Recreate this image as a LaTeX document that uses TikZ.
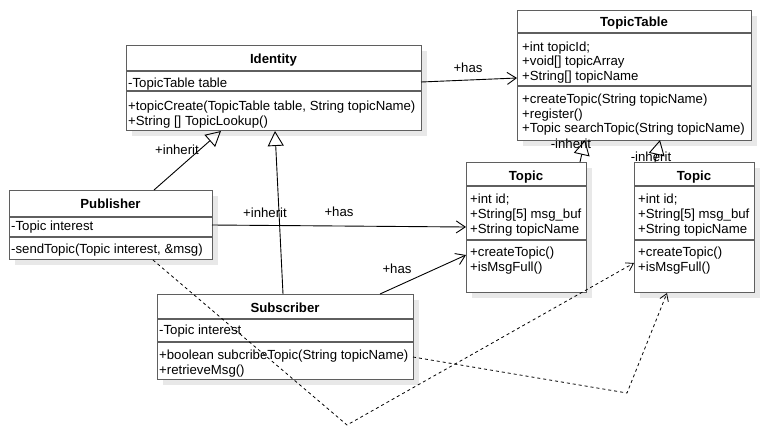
\documentclass[tikz,border=0pt]{standalone}
\usepackage{fontspec}
\setmainfont{Liberation Sans}
\usetikzlibrary{arrows.meta,shadows}
\definecolor{boxgray}{RGB}{95,95,95}
\definecolor{shadowgray}{RGB}{232,232,232}
\tikzset{
 classbox/.style={draw=boxgray, line width=1.4pt, fill=white, anchor=north west, inner sep=0pt,
   drop shadow={shadow xshift=5pt, shadow yshift=-5pt, fill=shadowgray, opacity=1}},
 sepline/.style={draw=boxgray, line width=1.2pt},
 ctitle/.style={font=\fontsize{13.2}{15}\selectfont\bfseries, anchor=base, inner sep=0pt},
 member/.style={font=\fontsize{13.2}{15}\selectfont, anchor=base west, inner sep=0pt},
 lbl/.style={font=\fontsize{13.2}{15}\selectfont, inner sep=0pt},
 assoc/.style={line width=0.9pt, -{Straight Barb[length=9pt,width=12pt,line width=0.9pt]}},
 inh/.style={line width=0.9pt, -{Triangle[open,length=15pt,width=16pt,line width=0.9pt]}},
 dep/.style={line width=0.8pt, dash pattern=on 3pt off 3pt, -{Straight Barb[length=7pt,width=9pt,line width=0.8pt]}},
}
\begin{document}
\begin{tikzpicture}[x=1pt,y=-1pt]
\useasboundingbox (0,0) rectangle (764,437);
\fill[white] (0,0) rectangle (764,437);

% ---------- Identity
\node[classbox, minimum width=295pt, minimum height=85pt] (identity) at (126,45) {};
\draw[sepline] (126,71) -- (421,71);
\draw[sepline] (126,91) -- (421,91);
\node[ctitle] (idT) at (273.5,63) {Identity};
\node[member] (idA) at (128,87) {-TopicTable table};
\node[member] (idM1) at (128,110) {+topicCreate(TopicTable table, String topicName)};
\node[member] (idM2) at (128,125) {+String [] TopicLookup()};

% ---------- TopicTable
\node[classbox, minimum width=234pt, minimum height=130pt] (table) at (517,10) {};
\draw[sepline] (517,33) -- (751,33);
\draw[sepline] (517,86) -- (751,86);
\node[ctitle] (ttT) at (634,26) {TopicTable};
\node[member] (ttA1) at (522,51) {+int topicId;};
\node[member] (ttA2) at (522,65.5) {+void[] topicArray};
\node[member] (ttA3) at (522,80) {+String[] topicName};
\node[member] (ttM1) at (522,103.5) {+createTopic(String topicName)};
\node[member] (ttM2) at (522,118) {+register()};
\node[member] (ttM3) at (522,132.5) {+Topic searchTopic(String topicName)};

% ---------- Publisher
\node[classbox, minimum width=203pt, minimum height=69pt] (pub) at (9,190) {};
\draw[sepline] (9,217) -- (212,217);
\draw[sepline] (9,237) -- (212,237);
\node[ctitle] (pubT) at (110.5,208) {Publisher};
\node[member] (pubA) at (11,230) {-Topic interest};
\node[member] (pubM) at (11,253) {-sendTopic(Topic interest, \&msg)};

% ---------- Subscriber
\node[classbox, minimum width=256pt, minimum height=85pt] (sub) at (157,294) {};
\draw[sepline] (157,319) -- (413,319);
\draw[sepline] (157,342) -- (413,342);
\node[ctitle] (subT) at (285,312) {Subscriber};
\node[member] (subA) at (159,334) {-Topic interest};
\node[member] (subM1) at (159,359) {+boolean subcribeTopic(String topicName)};
\node[member] (subM2) at (159,374) {+retrieveMsg()};

% ---------- Topic 1
\node[classbox, minimum width=120pt, minimum height=130pt] (topicA) at (466,162) {};
\draw[sepline] (466,186) -- (586,186);
\draw[sepline] (466,240) -- (586,240);
\node[ctitle] (taT) at (526,180) {Topic};
\node[member] (taA1) at (470,203) {+int id;};
\node[member] (taA2) at (470,218) {+String[5] msg\_buf};
\node[member] (taA3) at (470,233) {+String topicName};
\node[member] (taM1) at (470,256) {+createTopic()};
\node[member] (taM2) at (470,271) {+isMsgFull()};

% ---------- Topic 2
\node[classbox, minimum width=120pt, minimum height=130pt] (topicB) at (634,162) {};
\draw[sepline] (634,186) -- (754,186);
\draw[sepline] (634,240) -- (754,240);
\node[ctitle] (tbT) at (694,180) {Topic};
\node[member] (tbA1) at (638,203) {+int id;};
\node[member] (tbA2) at (638,218) {+String[5] msg\_buf};
\node[member] (tbA3) at (638,233) {+String topicName};
\node[member] (tbM1) at (638,256) {+createTopic()};
\node[member] (tbM2) at (638,271) {+isMsgFull()};

% ---------- connector end points
\coordinate (idR) at (421,82);
\coordinate (ttL) at (517,78);
\coordinate (idB1) at (221,131);
\coordinate (idB2) at (275,131);
\coordinate (pubTop) at (154,190);
\coordinate (subTop1) at (283,294);
\coordinate (subTop2) at (380,294);
\coordinate (pubR) at (212,225);
\coordinate (taL1) at (466,227);
\coordinate (taL2) at (466,255);
\coordinate (taTop) at (580,162);
\coordinate (ttB1) at (585,140);
\coordinate (tbTop) at (655,162);
\coordinate (ttB2) at (660,140);
\coordinate (pubB) at (153,260);
\coordinate (bendA) at (347,425);
\coordinate (tbL) at (634,263);
\coordinate (subR) at (413,357);
\coordinate (bendB) at (627,393);
\coordinate (tbB) at (667,293);

% ---------- connectors
\draw[assoc] (idR) -- (ttL);
\draw[inh] (pubTop) -- (idB1);
\draw[inh] (subTop1) -- (idB2);
\draw[assoc] (pubR) -- (taL1);
\draw[assoc] (subTop2) -- (taL2);
\draw[inh] (taTop) -- (ttB1);
\draw[inh] (tbTop) -- (ttB2);
\draw[dep] (pubB) -- (bendA) -- (tbL);
\draw[dep] (subR) -- (bendB) -- (tbB);

% ---------- labels
\node[lbl] (l1) at (468,68) {+has};
\node[lbl] (l2) at (177,150) {+inherit};
\node[lbl] (l3) at (265,213) {+inherit};
\node[lbl] (l4) at (339,212) {+has};
\node[lbl] (l5) at (397,269) {+has};
\node[lbl] (l6) at (571,144) {-inherit};
\node[lbl] (l7) at (651,157) {-inherit};
\end{tikzpicture}
\end{document}
